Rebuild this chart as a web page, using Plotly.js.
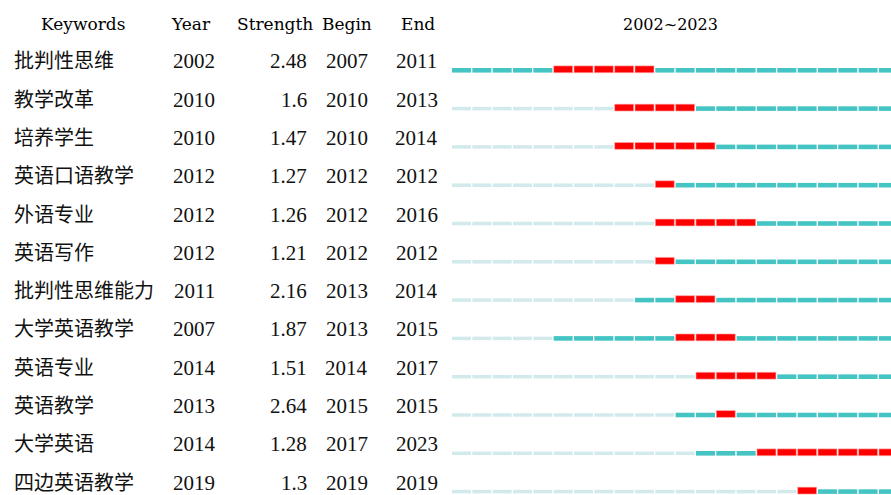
<!DOCTYPE html>
<html>
<head>
<meta charset="utf-8">
<script src="https://cdn.plot.ly/plotly-3.0.1.min.js"></script>
<style>html,body{margin:0;padding:0;background:#fff;}#chart{width:891px;height:495px;}</style>
</head>
<body>
<div id="chart"></div>
<script>
// ---- data ----
const keywords = ['批判性思维','教学改革','培养学生','英语口语教学','外语专业','英语写作','批判性思维能力','大学英语教学','英语专业','英语教学','大学英语','四边英语教学'];
const firstYear = [2002,2010,2010,2012,2012,2012,2011,2007,2014,2013,2014,2019];
const strength = ['2.48','1.6','1.47','1.27','1.26','1.21','2.16','1.87','1.51','2.64','1.28','1.3'];
const beginYear = [2007,2010,2010,2012,2012,2012,2013,2013,2014,2015,2017,2019];
const endYear = [2011,2013,2014,2012,2016,2012,2014,2015,2017,2015,2023,2019];
const headers = ['Keywords','Year','Strength','Begin','End'];
const spanStart = 2002, spanEnd = 2023;
const spanTitle = spanStart + '~' + spanEnd;

// ---- build segments ----
const seg = {light:{x:[],base:[],y:[]}, teal:{x:[],base:[],y:[]}, red:{x:[],base:[],y:[]}};
const SEGLEN = 0.935;
keywords.forEach((k,i)=>{
  for(let yr=spanStart; yr<=spanEnd; yr++){
    let key;
    if(yr < firstYear[i]) key='light';
    else if(yr>=beginYear[i] && yr<=endYear[i]) key='red';
    else key='teal';
    seg[key].x.push(SEGLEN); seg[key].base.push(yr); seg[key].y.push(key==='red'? i-0.026 : i);
  }
});
function barTrace(s, color, w, line){
  return {type:'bar', orientation:'h', x:s.x, base:s.base, y:s.y, width:w,
    marker:{color:color, line:line||{width:0}}, hoverinfo:'skip', showlegend:false};
}
const traces = [
  barTrace(seg.light,'#d2eaec',0.092),
  barTrace(seg.teal,'#45c4c4',0.12),
  barTrace(seg.red,'#ff0000',0.18,{color:'#ffb3b3',width:0.6})
];

const W=891;
const serif = 'Liberation Serif, Times New Roman, serif';
const hfont = {family:'DejaVu Serif, serif', size:17, color:'#000'};
const dfont = {family:serif, size:21, color:'#111'};
const cfont = {family:'Liberation Serif, Noto Sans CJK SC, serif', size:20, color:'#111'};
const ann = [];
const hx = [82.5,191,275,346.7,417.5];
headers.forEach((h,j)=>ann.push({text:h, xref:'paper', yref:'paper', x:hx[j]/W, y:1-24/495, xanchor:'center', yanchor:'middle', showarrow:false, font:hfont}));
ann.push({text:spanTitle, xref:'paper', yref:'paper', x:670/W, y:1-25/495, xanchor:'center', yanchor:'middle', showarrow:false, font:{family:'DejaVu Serif, serif', size:16, color:'#000'}});
keywords.forEach((k,i)=>{
  const ys = 9;
  ann.push({text:k, xref:'paper', yref:'y', x:12/W, y:i, yshift:ys, xanchor:'left', yanchor:'middle', showarrow:false, font:cfont});
  ann.push({text:String(firstYear[i]), xref:'paper', yref:'y', x:194/W, y:i, yshift:ys, xanchor:'center', yanchor:'middle', showarrow:false, font:dfont});
  ann.push({text:strength[i], xref:'paper', yref:'y', x:309/W, y:i, yshift:ys, xanchor:'right', yanchor:'middle', showarrow:false, font:dfont});
  ann.push({text:String(beginYear[i]), xref:'paper', yref:'y', x:346.5/W, y:i, yshift:ys, xanchor:'center', yanchor:'middle', showarrow:false, font:dfont});
  ann.push({text:String(endYear[i]), xref:'paper', yref:'y', x:416.5/W, y:i, yshift:ys, xanchor:'center', yanchor:'middle', showarrow:false, font:dfont});
});

const pxPerYear = 20.33;
const layout = {
  width:891, height:495, margin:{l:0,r:0,t:0,b:0}, paper_bgcolor:'#fff', plot_bgcolor:'#fff',
  barmode:'overlay',
  xaxis:{domain:[452/W,1], range:[spanStart, spanStart + (W-452)/pxPerYear], visible:false, fixedrange:true},
  yaxis:{domain:[0,1], range:[11 + 3.4/38.3, -70.3/38.3], visible:false, fixedrange:true},
  annotations:ann
};
Plotly.newPlot('chart', traces, layout, {staticPlot:true, displayModeBar:false});
</script>
</body>
</html>
